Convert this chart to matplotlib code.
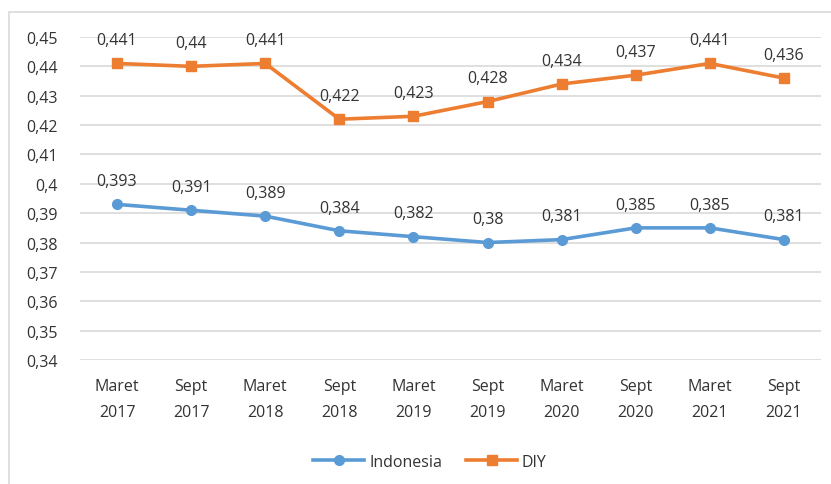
import numpy as np
import matplotlib.pyplot as plt
from matplotlib.ticker import FixedLocator, FuncFormatter
from matplotlib.patches import Rectangle

periods = ['Maret\n2017', 'Sept\n2017', 'Maret\n2018', 'Sept\n2018', 'Maret\n2019',
           'Sept\n2019', 'Maret\n2020', 'Sept\n2020', 'Maret\n2021', 'Sept\n2021']
indonesia = [0.393, 0.391, 0.389, 0.384, 0.382, 0.380, 0.381, 0.385, 0.385, 0.381]
diy = [0.441, 0.440, 0.441, 0.422, 0.423, 0.428, 0.434, 0.437, 0.441, 0.436]
yticks = [0.34, 0.35, 0.36, 0.37, 0.38, 0.39, 0.40, 0.41, 0.42, 0.43, 0.44, 0.45]

blue = '#5B9BD5'
orange = '#ED7D31'
txt = '#333333'
fs = 11.5

plt.rcParams['font.family'] = ['Open Sans', 'DejaVu Sans']

fig = plt.figure(figsize=(8.31, 4.85), dpi=100)
# outer chart border (cropped on right/bottom like the source)
fig.patches.append(Rectangle((9 / 831, -0.1), 1.0, (485 - 13) / 485 + 0.1,
                             transform=fig.transFigure, fill=False,
                             edgecolor='#D9D9D9', linewidth=1.2))

ax = fig.add_axes([80 / 831, (485 - 361) / 485, (821 - 80) / 831, (361 - 38) / 485])
x = np.arange(len(periods))

ax.plot(x, indonesia, color=blue, lw=2.6, marker='o', ms=7, label='Indonesia', zorder=3)
ax.plot(x, diy, color=orange, lw=2.6, marker='s', ms=7, label='DIY', zorder=3)

def fmt(v):
    s = ('%.3f' % v).rstrip('0').rstrip('.')
    return s.replace('.', ',')

for xi, v in zip(x, indonesia):
    ax.annotate(fmt(v), (xi, v), xytext=(0, 11), textcoords='offset points',
                ha='center', va='bottom', fontsize=fs, color=txt)
for xi, v in zip(x, diy):
    ax.annotate(fmt(v), (xi, v), xytext=(0, 11), textcoords='offset points',
                ha='center', va='bottom', fontsize=fs, color=txt)

ax.set_xlim(-0.5, len(periods) - 0.5)
ax.set_ylim(0.34, 0.45)
ax.yaxis.set_major_locator(FixedLocator(yticks))
ax.yaxis.set_major_formatter(FuncFormatter(lambda v, p: fmt(round(v, 2))))
ax.set_xticks(x)
ax.set_xticklabels(periods, fontsize=fs, color=txt, linespacing=1.85)
ax.tick_params(axis='y', labelsize=fs, labelcolor=txt, length=0, pad=16)
ax.tick_params(axis='x', length=0, pad=13)
ax.grid(axis='y', color='#D9D9D9', lw=1.2)
ax.set_axisbelow(True)
for s in ax.spines.values():
    s.set_visible(False)

leg = fig.legend(loc='center', bbox_to_anchor=(430 / 831, 1 - 463 / 485), ncol=2,
                 frameon=False, fontsize=fs, handlelength=3.2, columnspacing=1.5,
                 handletextpad=0.3)
for t in leg.get_texts():
    t.set_color(txt)

fig.savefig('out.png', dpi=100)
